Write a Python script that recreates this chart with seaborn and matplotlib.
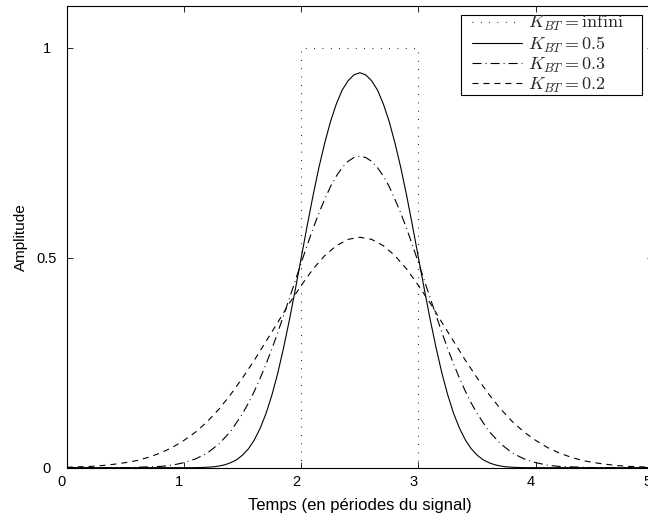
import numpy as np
import pandas as pd
import matplotlib
matplotlib.use("Agg")
import matplotlib.pyplot as plt
import seaborn as sns
from matplotlib.transforms import ScaledTranslation
from matplotlib.patches import Rectangle

# ---- data ----
temps = [0.0, 0.1, 0.2, 0.3, 0.4, 0.5, 0.6, 0.7, 0.8, 0.9,
         1.0, 1.1, 1.2, 1.3, 1.4, 1.5, 1.6, 1.7, 1.8, 1.9,
         2.0, 2.1, 2.2, 2.3, 2.4, 2.5, 2.6, 2.7, 2.8, 2.9,
         3.0, 3.1, 3.2, 3.3, 3.4, 3.5, 3.6, 3.7, 3.8, 3.9,
         4.0, 4.1, 4.2, 4.3, 4.4, 4.5, 4.6, 4.7, 4.8, 4.9, 5.0]

# K_BT = 0.2 (dashed)
amp_bt02 = [0.001, 0.002, 0.003, 0.005, 0.008, 0.012, 0.017, 0.025, 0.035, 0.048,
            0.065, 0.085, 0.110, 0.140, 0.175, 0.214, 0.256, 0.301, 0.346, 0.392,
            0.434, 0.473, 0.505, 0.529, 0.544, 0.549, 0.544, 0.529, 0.505, 0.473,
            0.434, 0.392, 0.346, 0.301, 0.256, 0.214, 0.175, 0.140, 0.110, 0.085,
            0.065, 0.048, 0.035, 0.025, 0.017, 0.012, 0.008, 0.005, 0.003, 0.002, 0.001]

# K_BT = 0.5 (solid), read more densely around the pulse
temps_bt05 = [0.0, 0.5, 1.0, 1.1, 1.2, 1.25, 1.3, 1.35, 1.4, 1.45,
              1.5, 1.55, 1.6, 1.65, 1.7, 1.75, 1.8, 1.85, 1.9, 1.95,
              2.0, 2.05, 2.1, 2.15, 2.2, 2.25, 2.3, 2.35, 2.4, 2.45,
              2.5, 2.55, 2.6, 2.65, 2.7, 2.75, 2.8, 2.85, 2.9, 2.95,
              3.0, 3.05, 3.1, 3.15, 3.2, 3.25, 3.3, 3.35, 3.4, 3.45,
              3.5, 3.55, 3.6, 3.65, 3.7, 3.75, 3.8, 3.9, 4.0, 4.5, 5.0]
amp_bt05 = [0.000, 0.000, 0.000, 0.000, 0.001, 0.002, 0.004, 0.007, 0.012, 0.019,
            0.030, 0.045, 0.066, 0.094, 0.129, 0.173, 0.225, 0.286, 0.353, 0.425,
            0.500, 0.575, 0.647, 0.714, 0.773, 0.825, 0.867, 0.900, 0.922, 0.936,
            0.941, 0.936, 0.922, 0.900, 0.867, 0.825, 0.773, 0.714, 0.647, 0.575,
            0.500, 0.425, 0.353, 0.286, 0.225, 0.173, 0.129, 0.094, 0.066, 0.045,
            0.030, 0.019, 0.012, 0.007, 0.004, 0.002, 0.001, 0.000, 0.000, 0.000, 0.000]

# K_BT = 0.3 (dash-dot), denser around the top
temps_bt03 = [0.0, 0.2, 0.4, 0.5, 0.6, 0.7, 0.8, 0.9, 1.0, 1.1,
              1.2, 1.3, 1.4, 1.5, 1.55, 1.6, 1.65, 1.7, 1.75, 1.8,
              1.85, 1.9, 1.95, 2.0, 2.05, 2.1, 2.15, 2.2, 2.25, 2.3,
              2.35, 2.4, 2.45, 2.5, 2.55, 2.6, 2.65, 2.7, 2.75, 2.8,
              2.85, 2.9, 2.95, 3.0, 3.05, 3.1, 3.15, 3.2, 3.25, 3.3,
              3.35, 3.4, 3.45, 3.5, 3.6, 3.7, 3.8, 3.9, 4.0, 4.1,
              4.2, 4.3, 4.4, 4.5, 4.6, 4.8, 5.0]
amp_bt03 = [0.000, 0.000, 0.000, 0.000, 0.001, 0.002, 0.003, 0.006, 0.012, 0.021,
            0.035, 0.057, 0.087, 0.129, 0.154, 0.182, 0.213, 0.247, 0.283, 0.322,
            0.363, 0.404, 0.446, 0.488, 0.529, 0.569, 0.606, 0.639, 0.670, 0.695,
            0.715, 0.730, 0.739, 0.742, 0.739, 0.730, 0.715, 0.695, 0.670, 0.639,
            0.606, 0.569, 0.529, 0.488, 0.446, 0.404, 0.363, 0.322, 0.283, 0.247,
            0.213, 0.182, 0.154, 0.129, 0.087, 0.057, 0.035, 0.021, 0.012, 0.006,
            0.003, 0.002, 0.001, 0.000, 0.000, 0.000, 0.000]

# K_BT = infini (dotted rectangle)
rect_t = [0, 2, 2, 3, 3, 5]
rect_amp = [0, 0, 1, 1, 0, 0]

labels = [r"$K_{BT}=\mathrm{infini}$", r"$K_{BT}=0.5$",
          r"$K_{BT}=0.3$", r"$K_{BT}=0.2$"]
xticks = [0, 1, 2, 3, 4, 5]
xticklabels = ["0", "1", "2", "3", "4", "5"]
yticks = [0, 0.5, 1]
yticklabels = ["0", "0.5", "1"]

# ---- style ----
sns.set_style("ticks")
plt.rcParams["font.family"] = ["Liberation Sans", "DejaVu Sans"]
plt.rcParams["mathtext.fontset"] = "cm"
plt.rcParams["lines.scale_dashes"] = False

fig = plt.figure(figsize=(6.48, 5.17), dpi=100)
ax = fig.add_axes([0.1029, 0.0954, 0.9048, 0.8930])

dotted = (0, (0.6, 5.4))
dashdot = (0, (6.5, 2.9, 0.7, 2.9))
dashed = (0, (4.3, 3.6))

sns.lineplot(x=rect_t, y=rect_amp, ax=ax, color="black", lw=0.8,
             linestyle=dotted, estimator=None, sort=False, label=labels[0])
sns.lineplot(x=temps_bt05, y=amp_bt05, ax=ax, color="black", lw=0.8,
             linestyle="-", estimator=None, sort=False, label=labels[1])
sns.lineplot(x=temps_bt03, y=amp_bt03, ax=ax, color="black", lw=0.8,
             linestyle=dashdot, estimator=None, sort=False, label=labels[2])
sns.lineplot(x=temps, y=amp_bt02, ax=ax, color="black", lw=0.8,
             linestyle=dashed, estimator=None, sort=False, label=labels[3])

ax.set_xlim(0, 5)
ax.set_ylim(0, 1.1)
ax.set_xticks(xticks)
ax.set_xticklabels(xticklabels)
ax.set_yticks(yticks)
ax.set_yticklabels(yticklabels)

for s in ax.spines.values():
    s.set_color("black")
    s.set_linewidth(0.8)
    s.set_visible(True)

ax.tick_params(direction="in", length=4.3, width=0.6, top=True, right=True,
               labelsize=10.5, colors="black")
ax.tick_params(axis="x", pad=5.0)
ax.tick_params(axis="y", pad=14.5)

for lbl in ax.get_yticklabels():
    lbl.set_horizontalalignment("center")
for lbl in ax.get_xticklabels():
    lbl.set_transform(lbl.get_transform() +
                      ScaledTranslation(-5 / 100, 0, fig.dpi_scale_trans))

ax.set_xlabel("Temps (en périodes du signal)", fontsize=12, color="black")
ax.set_ylabel("Amplitude", fontsize=11, color="black")
ax.xaxis.set_label_coords(0.5, -0.0656)
ax.yaxis.set_label_coords(-0.0657, 0.5)

# legend: frame drawn as a rectangle, entries placed inside it
ax.add_patch(Rectangle((0.6725, 0.8072), 0.9812 - 0.6725, 0.9805 - 0.8072,
                       transform=ax.transAxes, facecolor="white",
                       edgecolor="black", lw=0.8, zorder=4, clip_on=False))
leg = ax.legend(loc="upper left", bbox_to_anchor=(0.6913, 0.9820),
                borderaxespad=0, borderpad=0, frameon=False, fontsize=13,
                handlelength=2.77, handletextpad=0.33, labelspacing=0.06)
leg.set_zorder(5)

fig.savefig("out.png", dpi=100)
